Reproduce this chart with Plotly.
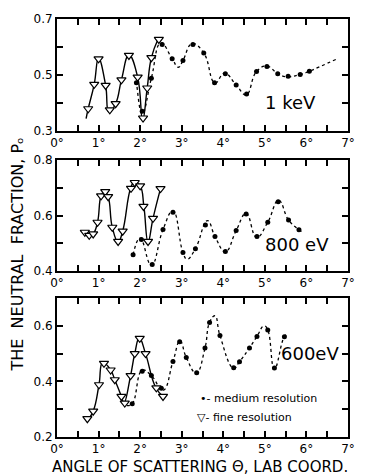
import plotly.graph_objects as go
from plotly.subplots import make_subplots

# ---------------- data ----------------
# 1 keV
k1_fine_x = [0.75, 0.895, 1.00, 1.17, 1.27, 1.41, 1.55, 1.73, 1.94, 2.07, 2.17, 2.27, 2.45]
k1_fine_y = [0.380, 0.467, 0.558, 0.463, 0.376, 0.398, 0.483, 0.570, 0.493, 0.347, 0.454, 0.562, 0.627]
k1_med_x = [1.91, 2.05, 2.27, 2.53, 2.77, 3.03, 3.27, 3.53, 3.79, 4.05, 4.31, 4.56, 4.80, 5.05, 5.31, 5.56, 5.85, 6.07]
k1_med_y = [0.473, 0.371, 0.489, 0.609, 0.558, 0.552, 0.609, 0.579, 0.473, 0.505, 0.465, 0.433, 0.513, 0.531, 0.505, 0.496, 0.502, 0.514]
k1_fine_curve_x = [0.70, 0.75, 0.895, 1.00, 1.17, 1.25, 1.41, 1.55, 1.73, 1.94, 2.06, 2.17, 2.27, 2.43]
k1_fine_curve_y = [0.345, 0.380, 0.467, 0.560, 0.463, 0.368, 0.398, 0.483, 0.572, 0.493, 0.340, 0.454, 0.562, 0.628]
k1_med_curve_x = [1.88, 1.91, 2.05, 2.27, 2.50, 2.77, 2.92, 3.03, 3.25, 3.53, 3.80, 4.03, 4.31, 4.55, 4.80, 5.05, 5.31, 5.52, 5.85, 6.07, 6.71]
k1_med_curve_y = [0.500, 0.473, 0.362, 0.489, 0.615, 0.558, 0.528, 0.552, 0.612, 0.579, 0.472, 0.507, 0.465, 0.430, 0.513, 0.532, 0.505, 0.494, 0.502, 0.514, 0.556]

# 800 eV
e8_fine_x = [0.67, 0.775, 0.87, 0.975, 1.06, 1.16, 1.23, 1.33, 1.47, 1.58, 1.78, 1.87, 2.00, 2.08, 2.19, 2.31, 2.49]
e8_fine_y = [0.540, 0.529, 0.534, 0.576, 0.671, 0.686, 0.668, 0.558, 0.507, 0.544, 0.698, 0.719, 0.707, 0.633, 0.507, 0.590, 0.697]
e8_med_x = [1.83, 2.03, 2.29, 2.55, 2.79, 3.03, 3.33, 3.57, 3.80, 4.05, 4.31, 4.55, 4.81, 5.07, 5.32, 5.57, 5.82]
e8_med_y = [0.459, 0.514, 0.424, 0.550, 0.612, 0.467, 0.481, 0.566, 0.525, 0.471, 0.546, 0.606, 0.525, 0.576, 0.650, 0.584, 0.549]
e8_fine_curve_x = [0.67, 0.775, 0.87, 0.975, 1.06, 1.14, 1.23, 1.33, 1.47, 1.58, 1.77, 1.86, 2.00, 2.09, 2.19, 2.31, 2.49]
e8_fine_curve_y = [0.540, 0.527, 0.534, 0.576, 0.671, 0.688, 0.668, 0.558, 0.505, 0.544, 0.698, 0.721, 0.707, 0.633, 0.505, 0.590, 0.697]
e8_med_curve_x = [1.83, 2.00, 2.27, 2.55, 2.79, 3.03, 3.13, 3.33, 3.62, 3.80, 4.05, 4.31, 4.55, 4.80, 5.07, 5.33, 5.57, 5.82, 5.90]
e8_med_curve_y = [0.459, 0.519, 0.421, 0.550, 0.617, 0.467, 0.443, 0.481, 0.582, 0.525, 0.470, 0.546, 0.608, 0.522, 0.576, 0.655, 0.584, 0.549, 0.541]

# 600 eV
e6_fine_x = [0.73, 0.87, 1.01, 1.13, 1.29, 1.39, 1.55, 1.63, 1.77, 1.87, 1.99, 2.13, 2.39, 2.55]
e6_fine_y = [0.266, 0.293, 0.388, 0.465, 0.441, 0.406, 0.346, 0.322, 0.421, 0.500, 0.555, 0.500, 0.377, 0.346]
e6_med_x = [1.81, 2.05, 2.27, 2.51, 2.79, 2.95, 3.11, 3.36, 3.56, 3.67, 3.92, 4.25, 4.39, 4.63, 4.81, 5.07, 5.23, 5.47]
e6_med_y = [0.320, 0.437, 0.421, 0.375, 0.472, 0.543, 0.486, 0.431, 0.520, 0.612, 0.565, 0.449, 0.471, 0.520, 0.562, 0.585, 0.448, 0.561]
e6_fine_curve_x = [0.70, 0.73, 0.87, 1.01, 1.10, 1.29, 1.39, 1.55, 1.61, 1.77, 1.87, 1.98, 2.13, 2.37, 2.55]
e6_fine_curve_y = [0.262, 0.262, 0.293, 0.388, 0.468, 0.441, 0.406, 0.346, 0.322, 0.421, 0.500, 0.557, 0.500, 0.380, 0.346]
e6_med_curve_x = [1.68, 1.81, 2.05, 2.27, 2.55, 2.79, 2.96, 3.11, 3.35, 3.56, 3.67, 3.80, 3.92, 4.25, 4.39, 4.63, 4.81, 4.98, 5.07, 5.23, 5.47, 5.55]
e6_med_curve_y = [0.313, 0.320, 0.440, 0.421, 0.368, 0.472, 0.546, 0.486, 0.430, 0.520, 0.612, 0.636, 0.565, 0.447, 0.471, 0.520, 0.562, 0.600, 0.585, 0.445, 0.561, 0.570]

x_tick_vals = [0, 1, 2, 3, 4, 5, 6, 7]
x_tick_text = ["0°", "1°", "2°", "3°", "4°", "5°", "6°", "7°"]
y1_vals = [0.3, 0.5, 0.7]
y1_text = ["0.3", "0.5", "0.7"]
y2_vals = [0.4, 0.6, 0.8]
y2_text = ["0.4", "0.6", "0.8"]
y3_vals = [0.2, 0.4, 0.6]
y3_text = ["0.2", "0.4", "0.6"]

panel_labels = ["1 keV", "800 eV", "600eV"]
legend_texts = ["•- medium resolution", "▽- fine resolution"]
x_title = "ANGLE OF SCATTERING Θ, LAB COORD."
y_title = "THE  NEUTRAL  FRACTION, Pₒ"

# ---------------- figure ----------------
FONT = "DejaVu Sans"
fig = make_subplots(rows=3, cols=1)

panels = [
    (k1_fine_x, k1_fine_y, k1_med_x, k1_med_y, k1_fine_curve_x, k1_fine_curve_y, k1_med_curve_x, k1_med_curve_y),
    (e8_fine_x, e8_fine_y, e8_med_x, e8_med_y, e8_fine_curve_x, e8_fine_curve_y, e8_med_curve_x, e8_med_curve_y),
    (e6_fine_x, e6_fine_y, e6_med_x, e6_med_y, e6_fine_curve_x, e6_fine_curve_y, e6_med_curve_x, e6_med_curve_y),
]

for i, (fx, fy, mx, my, fcx, fcy, mcx, mcy) in enumerate(panels, start=1):
    fig.add_trace(go.Scatter(x=mcx, y=mcy, mode="lines", line=dict(color="black", width=1.3, dash="dot", shape="spline", smoothing=1.3), showlegend=False, hoverinfo="skip"), row=i, col=1)
    fig.add_trace(go.Scatter(x=fcx, y=fcy, mode="lines", line=dict(color="black", width=1.4, shape="spline", smoothing=1.3), showlegend=False, hoverinfo="skip"), row=i, col=1)
    fig.add_trace(go.Scatter(x=mx, y=my, mode="markers", marker=dict(symbol="circle", size=5, color="black"), showlegend=False), row=i, col=1)
    fig.add_trace(go.Scatter(x=fx, y=fy, mode="markers", marker=dict(symbol="triangle-down", size=8, color="white", line=dict(color="black", width=1.2)), showlegend=False), row=i, col=1)

axis_common = dict(showline=True, linecolor="black", linewidth=1.8, mirror="allticks", ticks="inside",
                   ticklen=6, tickwidth=1.5, tickcolor="black", showgrid=False, zeroline=False,
                   tickfont=dict(family=FONT, size=12, color="black"))

for i in range(1, 4):
    fig.update_xaxes(range=[0, 7], tickvals=x_tick_vals, ticktext=x_tick_text,
                     minor=dict(ticks="inside", dtick=0.5, tick0=0, ticklen=6, tickwidth=1.5, tickcolor="black"),
                     row=i, col=1, **axis_common)

minor_y = dict(ticks="inside", dtick=0.1, tick0=0.0, ticklen=6, tickwidth=1.5, tickcolor="black")
fig.update_yaxes(range=[0.3, 0.7], tickvals=y1_vals, ticktext=y1_text, minor=minor_y, row=1, col=1, **axis_common)
fig.update_yaxes(range=[0.4, 0.8], tickvals=y2_vals, ticktext=y2_text, minor=minor_y, row=2, col=1, **axis_common)
fig.update_yaxes(range=[0.2, 0.7], tickvals=y3_vals, ticktext=y3_text, minor=minor_y, row=3, col=1, **axis_common)

fig.update_layout(
    yaxis=dict(domain=[0.7316, 1.0]),
    yaxis2=dict(domain=[0.3967, 0.6627]),
    yaxis3=dict(domain=[0.0, 0.3325]),
)

anns = [
    dict(x=5.61, y=0.404, xref="x", yref="y", text=panel_labels[0], font=dict(family=FONT, size=18, color="black")),
    dict(x=5.78, y=0.497, xref="x2", yref="y2", text=panel_labels[1], font=dict(family=FONT, size=18, color="black")),
    dict(x=6.09, y=0.500, xref="x3", yref="y3", text=panel_labels[2], font=dict(family=FONT, size=18, color="black")),
    dict(x=3.38, y=0.339, xref="x3", yref="y3", text=legend_texts[0], xanchor="left", font=dict(family=FONT, size=11, color="black")),
    dict(x=3.33, y=0.271, xref="x3", yref="y3", text=legend_texts[1], xanchor="left", font=dict(family=FONT, size=11, color="black")),
    dict(x=0.491, y=-0.071, xref="paper", yref="paper", text=x_title, xanchor="center", yanchor="middle", font=dict(family=FONT, size=15, color="black")),
    dict(x=-0.137, y=0.437, xref="paper", yref="paper", text=y_title, textangle=-90, xanchor="center", yanchor="middle", font=dict(family=FONT, size=16, color="black")),
]
for a in anns:
    a.setdefault("xanchor", "center")
    a.setdefault("yanchor", "middle")
    a["showarrow"] = False
fig.update_layout(annotations=anns)

fig.update_layout(
    width=383, height=476,
    margin=dict(l=57, r=35, t=16, b=39),
    paper_bgcolor="white", plot_bgcolor="white",
    font=dict(family=FONT, color="black"),
    showlegend=False,
)

fig.write_html("out.html")
